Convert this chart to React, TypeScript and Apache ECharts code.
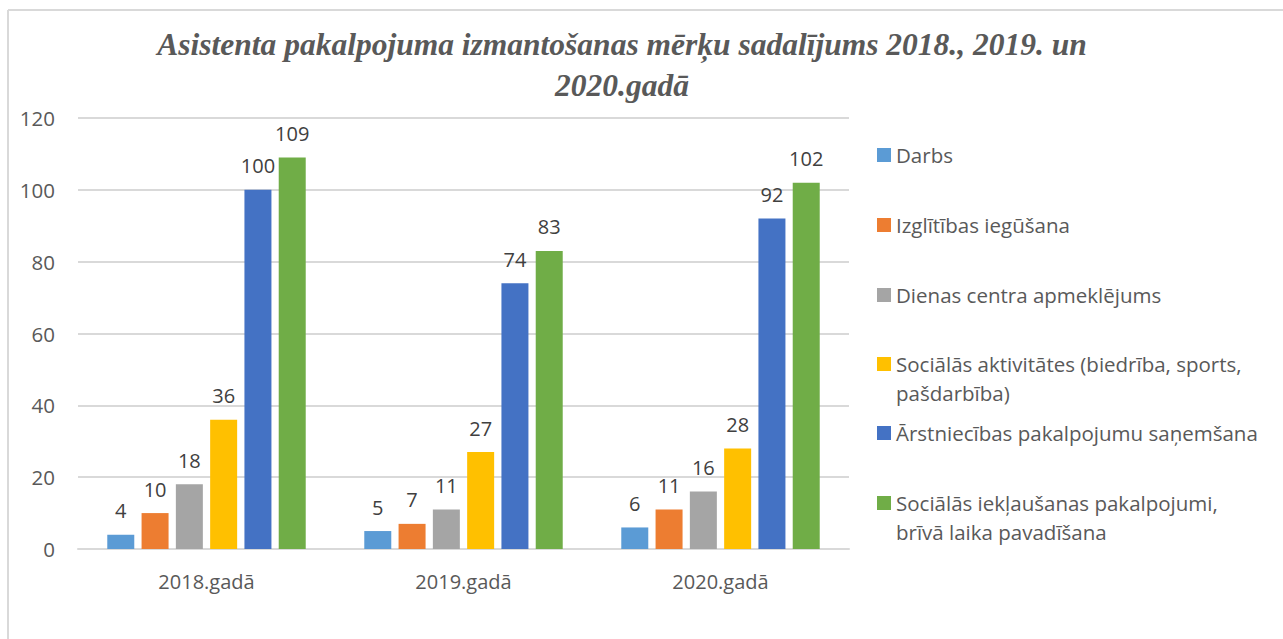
import React, { useEffect, useRef } from "react";
import * as echarts from "echarts";

const categories = ["2018.gadā", "2019.gadā", "2020.gadā"];
const seriesNames = [
  "Darbs",
  "Izglītības iegūšana",
  "Dienas centra apmeklējums",
  "Sociālās aktivitātes (biedrība, sports, pašdarbība)",
  "Ārstniecības pakalpojumu saņemšana",
  "Sociālās iekļaušanas pakalpojumi, brīvā laika pavadīšana",
];
const legendLabels = [
  "Darbs",
  "Izglītības iegūšana",
  "Dienas centra apmeklējums",
  "Sociālās aktivitātes (biedrība, sports,\npašdarbība)",
  "Ārstniecības pakalpojumu saņemšana",
  "Sociālās iekļaušanas pakalpojumi,\nbrīvā laika pavadīšana",
];
const darbs = [4, 5, 6];
const izglitiba = [10, 7, 11];
const dienasCentrs = [18, 11, 16];
const socAktivitates = [36, 27, 28];
const arstnieciba = [100, 74, 92];
const socIeklausana = [109, 83, 102];
const seriesValues = [darbs, izglitiba, dienasCentrs, socAktivitates, arstnieciba, socIeklausana];
const colors = ["#5b9bd5", "#ed7d31", "#a5a5a5", "#ffc000", "#4472c4", "#70ad47"];
const yTicks = [0, 20, 40, 60, 80, 100, 120];

const titleText =
  "Asistenta pakalpojuma izmantošanas mērķu sadalījums 2018., 2019. un\n2020.gadā";

const FONT = "'Open Sans', sans-serif";

export default function App() {
  const ref = useRef<HTMLDivElement>(null);
  useEffect(() => {
    if (!ref.current) return;
    const chart = echarts.init(ref.current, null, { renderer: "svg" });
    const legendCenters = [155, 225, 295, 364, 433, 503];
    const legends = seriesNames.map((name, i) => {
      const twoLine = legendLabels[i].includes("\n");
      return {
        left: 877,
        top: legendCenters[i] - 14.5,
        padding: 0,
        orient: "vertical",
        itemWidth: 14,
        itemHeight: twoLine ? 43 : 14,
        itemGap: 0,
        icon: twoLine ? "path://M0,0L14,0L14,14L0,14Z M0,43L0.01,43Z" : "rect",
        selectedMode: false,
        data: [name],
        formatter: () => legendLabels[i],
        textStyle: {
          fontFamily: FONT,
          fontSize: 20.5,
          color: "#595959",
          lineHeight: 29,
        },
      };
    });
    chart.setOption({
      animation: false,
      textStyle: { fontFamily: FONT },
      title: {
        text: titleText,
        left: 617,
        top: 19,
        textAlign: "center",
        textStyle: {
          fontFamily: "'Liberation Serif', 'Times New Roman', serif",
          fontStyle: "italic",
          fontWeight: "bold",
          fontSize: 31.5,
          lineHeight: 41,
          color: "#595959",
        },
      },
      legend: legends,
      grid: { left: 78, right: 434, top: 118, bottom: 90, containLabel: false },
      xAxis: {
        type: "category",
        data: categories,
        axisLine: { lineStyle: { color: "#d9d9d9", width: 2 } },
        axisTick: { show: false },
        axisLabel: { fontFamily: FONT, fontSize: 20, color: "#595959", margin: 22 },
      },
      yAxis: {
        type: "value",
        min: yTicks[0],
        max: yTicks[yTicks.length - 1],
        interval: 20,
        axisLine: { show: false },
        axisTick: { show: false },
        splitLine: { lineStyle: { color: "#d9d9d9", width: 2 } },
        axisLabel: { fontFamily: FONT, fontSize: 20.5, color: "#595959", margin: 23 },
      },
      series: seriesNames.map((name, i) => ({
        name,
        type: "bar",
        data: seriesValues[i],
        barWidth: 27,
        barGap: "27%",
        itemStyle: { color: colors[i] },
        label: {
          show: true,
          position: "top",
          distance: 14,
          fontFamily: FONT,
          fontSize: 20,
          color: "#404040",
        },
      })),
      graphic: [
        {
          type: "line",
          shape: { x1: 8, y1: 10, x2: 1283, y2: 10 },
          style: { stroke: "#d9d9d9", lineWidth: 2 },
        },
        {
          type: "line",
          shape: { x1: 8, y1: 10, x2: 8, y2: 639 },
          style: { stroke: "#d9d9d9", lineWidth: 2 },
        },
      ],
    });
    return () => chart.dispose();
  }, []);
  return (
    <div
      ref={ref}
      style={{ position: "fixed", left: 0, top: 0, width: 1283, height: 639, background: "#fff" }}
    />
  );
}
